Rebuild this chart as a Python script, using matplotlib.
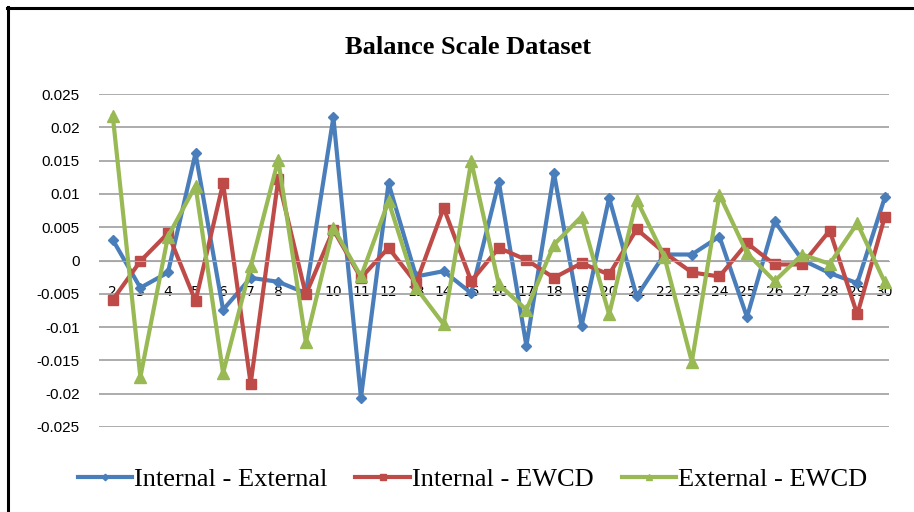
import matplotlib
matplotlib.use("Agg")
import matplotlib.pyplot as plt
from matplotlib.lines import Line2D

cats = list(range(2, 31))

int_ext = [0.0031, -0.0041, -0.0018, 0.0161, -0.0074, -0.0026, -0.0032, -0.0049, 0.0215, -0.0206,
           0.0116, -0.0024, -0.0016, -0.0049, 0.0118, -0.0128, 0.0131, -0.0098, 0.0094, -0.0054,
           0.0009, 0.0009, 0.0036, -0.0085, 0.0059, 0.0001, -0.0019, -0.0034, 0.0095]
int_ewcd = [-0.0059, -0.0001, 0.0041, -0.0061, 0.0116, -0.0185, 0.0122, -0.0051, 0.0046, -0.0026,
            0.0019, -0.0034, 0.0079, -0.0031, 0.0019, 0.0001, -0.0026, -0.0004, -0.0021, 0.0047,
            0.0012, -0.0018, -0.0024, 0.0026, -0.0006, -0.0006, 0.0045, -0.0081, 0.0066]
ext_ewcd = [0.0217, -0.0175, 0.0036, 0.0112, -0.0169, -0.0009, 0.0151, -0.0122, 0.0049, -0.0024,
            0.0089, -0.0041, -0.0096, 0.0149, -0.0036, -0.0074, 0.0024, 0.0066, -0.0081, 0.0091,
            0.0006, -0.0152, 0.0099, 0.0011, -0.0031, 0.0009, -0.0005, 0.0056, -0.0033]

yticks = [0.025, 0.02, 0.015, 0.01, 0.005, 0, -0.005, -0.01, -0.015, -0.02, -0.025]
ylabels = ["0.025", "0.02", "0.015", "0.01", "0.005", "0", "-0.005", "-0.01", "-0.015", "-0.02", "-0.025"]

fig = plt.figure(figsize=(9.14, 5.12), dpi=100)
ax = fig.add_axes([99 / 914, 1 - 427 / 512, 790 / 914, 333 / 512])

ax.plot(cats, int_ext, color="#4A7EBB", lw=3, marker="D", ms=5.5, label="Internal - External", clip_on=False)
ax.plot(cats, int_ewcd, color="#BE4B48", lw=3, marker="s", ms=7, label="Internal - EWCD", clip_on=False)
ax.plot(cats, ext_ewcd, color="#98B954", lw=3, marker="^", ms=8, label="External - EWCD", clip_on=False)

ax.set_xlim(1.5, 30.15)
ax.set_ylim(-0.025, 0.025)
ax.set_yticks(yticks)
ax.set_yticklabels(ylabels, fontfamily="Liberation Sans", fontsize=11)
ax.set_xticks(cats)
ax.set_xticklabels([str(c) for c in cats], fontfamily="Liberation Serif", fontsize=11.5)
ax.grid(axis="y", color="#A6A6A6", lw=1.3)
ax.set_axisbelow(True)
for s in ["top", "right", "left"]:
    ax.spines[s].set_visible(False)
ax.spines["bottom"].set_position(("data", 0))
ax.spines["bottom"].set_color("#A6A6A6")
ax.tick_params(axis="y", length=0, pad=14)
ax.tick_params(axis="x", length=0, pad=18)

fig.text(468 / 914, 1 - 47 / 512, "Balance Scale Dataset", ha="center", va="center",
         fontfamily="Liberation Serif", fontweight="bold", fontsize=19)

fig.legend(loc="center", bbox_to_anchor=(0.517, 1 - 479 / 512), ncol=3, frameon=False,
           prop={"family": "Liberation Serif", "size": 19}, handlelength=2.05,
           handletextpad=0.1, columnspacing=1.05, markerscale=0.6)

fig.add_artist(Line2D([7 / 914, 1], [1 - 8 / 512, 1 - 8 / 512], color="black", lw=2.2))
fig.add_artist(Line2D([8 / 914, 8 / 914], [1 - 7 / 512, 0], color="black", lw=2.2))

fig.savefig("out.png", dpi=100)
